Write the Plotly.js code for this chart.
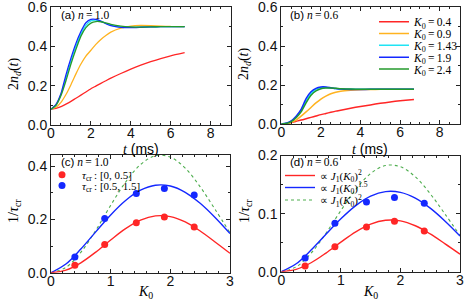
<!DOCTYPE html>
<html><head><meta charset="utf-8">
<script src="https://cdn.plot.ly/plotly-3.0.1.min.js"></script>
<style>html,body{margin:0;padding:0;background:#fff}#chart{width:464px;height:302px}</style>
</head><body><div id="chart"></div><script>
// ---------- data ----------
const tTime = [0,0.25,0.5,0.75,1,1.25,1.5,1.75,2,2.25,2.5,2.75,3,3.5,4,4.5,5,5.5,6,6.7];
const K0Labels = ['0.4','0.9','1.43','1.9','2.4'];
// panel (a): n = 1.0
const a_K04  = [0.08,0.084,0.093,0.106,0.12,0.136,0.152,0.168,0.184,0.198,0.212,0.225,0.238,0.262,0.284,0.304,0.322,0.338,0.352,0.368];
const a_K09  = [0.08,0.09,0.115,0.155,0.205,0.26,0.31,0.35,0.38,0.41,0.435,0.455,0.472,0.492,0.503,0.506,0.505,0.503,0.501,0.5];
const a_K143 = [0.08,0.10,0.155,0.24,0.325,0.4,0.462,0.507,0.529,0.533,0.527,0.517,0.508,0.498,0.496,0.498,0.499,0.5,0.5,0.5];
const a_K19  = [0.08,0.105,0.16,0.255,0.34,0.415,0.475,0.52,0.537,0.537,0.528,0.515,0.505,0.496,0.495,0.497,0.499,0.5,0.5,0.5];
const a_K24  = [0.08,0.10,0.15,0.225,0.31,0.385,0.452,0.495,0.518,0.526,0.525,0.519,0.512,0.503,0.499,0.498,0.499,0.5,0.5,0.5];
// panel (b): n = 0.6
const b_K04  = [0,0.003,0.008,0.014,0.02,0.027,0.034,0.041,0.048,0.054,0.06,0.066,0.071,0.081,0.09,0.098,0.106,0.113,0.119,0.126];
const b_K09  = [0,0.002,0.008,0.02,0.04,0.062,0.085,0.108,0.128,0.143,0.155,0.163,0.168,0.173,0.176,0.177,0.178,0.178,0.178,0.178];
const b_K143 = [0,0.004,0.014,0.036,0.068,0.118,0.157,0.178,0.186,0.187,0.185,0.182,0.18,0.179,0.178,0.178,0.178,0.178,0.178,0.178];
const b_K19  = [0,0.004,0.016,0.04,0.075,0.13,0.165,0.183,0.19,0.19,0.186,0.182,0.179,0.177,0.177,0.178,0.178,0.178,0.178,0.178];
const b_K24  = [0,0.003,0.012,0.032,0.062,0.108,0.147,0.17,0.181,0.184,0.184,0.183,0.181,0.179,0.178,0.178,0.178,0.178,0.178,0.178];
// panels (c),(d): rates
const K0pts = [0.4,0.9,1.43,1.9,2.4];
const c_tau05  = [0.028,0.106,0.188,0.21,0.172];
const c_tau15  = [0.059,0.204,0.298,0.317,0.292];
const d_tau05  = [0.0098,0.043,0.077,0.087,0.070];
const d_tau15  = [0.0236,0.0834,0.12,0.1276,0.118];
const K0grid = [0,0.25,0.5,0.75,1,1.25,1.5,1.75,2,2.25,2.5,2.75,3];
const c_fitRed   = [0,0.0098,0.0373,0.0774,0.123,0.1656,0.1976,0.2138,0.2112,0.191,0.1569,0.1157,0.073];
const c_fitBlue  = [0,0.0325,0.0889,0.1537,0.2175,0.2718,0.3104,0.3292,0.3263,0.3025,0.2611,0.2077,0.1471];
const c_fitGreen = [0,0.0201,0.0768,0.1595,0.2534,0.341,0.4071,0.4403,0.435,0.3934,0.3232,0.2383,0.1504];
const d_fitRed   = [0,0.004,0.0154,0.0321,0.0509,0.0686,0.0819,0.0885,0.0875,0.0791,0.065,0.0479,0.0302];
const d_fitBlue  = [0,0.0136,0.0372,0.0644,0.0911,0.1138,0.13,0.1379,0.1366,0.1267,0.1094,0.087,0.0616];
const d_fitGreen = [0,0.0084,0.0319,0.0662,0.1052,0.1416,0.169,0.1828,0.1806,0.1633,0.1342,0.0989,0.0624];
// tick labels
const tTicks = [0,2,4,6,8];
const kTicks = [0,1,2,3];
const nTicks = [0,0.2,0.4,0.6], nTickText = ['0.0','0.2','0.4','0.6'];
const cTicks = [0,0.2,0.4],      cTickText = ['0.0','0.2','0.4'];
const dTicks = [0,0.1,0.2],      dTickText = ['0.0','0.1','0.2'];

// ---------- styling ----------
const W=464,H=302;
const PX = x=>x/W, PY = y=>1-y/H;
const SERIF='Liberation Serif, Times New Roman, serif';
const SANS='Liberation Sans, Arial, sans-serif';
const colors = ['#ff2626','#ffb320','#20e4f4','#1428ff','#249a2c'];
const fitGreen = '#4fae4f';

const traces = [];
const aSeries=[a_K04,a_K09,a_K143,a_K19,a_K24];
const bSeries=[b_K04,b_K09,b_K143,b_K19,b_K24];
const legNames=['legend','legend2','legend3','legend4','legend5'];
aSeries.forEach((s,i)=>traces.push({x:tTime,y:s,xaxis:'x',yaxis:'y',mode:'lines',
  line:{color:colors[i],width:1.3,shape:'spline',smoothing:0.5},showlegend:false,hoverinfo:'skip'}));
bSeries.forEach((s,i)=>traces.push({x:tTime,y:s,xaxis:'x2',yaxis:'y2',mode:'lines',
  name:'<i>K</i><sub>0</sub>\u2009=\u2009'+K0Labels[i],legend:legNames[i],
  line:{color:colors[i],width:1.5,shape:'spline',smoothing:0.5},showlegend:true,hoverinfo:'skip'}));
// (c)
traces.push({x:K0grid,y:c_fitGreen,xaxis:'x3',yaxis:'y3',mode:'lines',line:{color:fitGreen,width:1.1,dash:'dot',shape:'spline'},showlegend:false});
traces.push({x:K0grid,y:c_fitBlue,xaxis:'x3',yaxis:'y3',mode:'lines',line:{color:colors[3],width:1.4,shape:'spline'},showlegend:false});
traces.push({x:K0grid,y:c_fitRed,xaxis:'x3',yaxis:'y3',mode:'lines',line:{color:colors[0],width:1.4,shape:'spline'},showlegend:false});
traces.push({x:K0pts,y:c_tau05,xaxis:'x3',yaxis:'y3',mode:'markers',marker:{color:colors[0],size:7},
  name:'<i>τ</i><sub>cr</sub>\u2009: [0, 0.5]',legend:'legend6',showlegend:true});
traces.push({x:K0pts,y:c_tau15,xaxis:'x3',yaxis:'y3',mode:'markers',marker:{color:colors[3],size:7},
  name:'<i>τ</i><sub>cr</sub>\u2009: [0.5, 1.5]',legend:'legend7',showlegend:true});
// (d)
traces.push({x:K0grid,y:d_fitGreen,xaxis:'x4',yaxis:'y4',mode:'lines',line:{color:fitGreen,width:1.1,dash:'dot',shape:'spline'},
  name:'∝ <i>J</i><sub>1</sub>(<i>K</i><sub>0</sub>)<sup>2</sup>',legend:'legend10',showlegend:true});
traces.push({x:K0grid,y:d_fitBlue,xaxis:'x4',yaxis:'y4',mode:'lines',line:{color:colors[3],width:1.4,shape:'spline'},
  name:'∝ <i>J</i><sub>1</sub>(<i>K</i><sub>0</sub>)<sup>1.5</sup>',legend:'legend9',showlegend:true});
traces.push({x:K0grid,y:d_fitRed,xaxis:'x4',yaxis:'y4',mode:'lines',line:{color:colors[0],width:1.4,shape:'spline'},
  name:'∝ <i>J</i><sub>1</sub>(<i>K</i><sub>0</sub>)<sup>2</sup>',legend:'legend8',showlegend:true});
traces.push({x:K0pts,y:d_tau05,xaxis:'x4',yaxis:'y4',mode:'markers',marker:{color:colors[0],size:7},showlegend:false});
traces.push({x:K0pts,y:d_tau15,xaxis:'x4',yaxis:'y4',mode:'markers',marker:{color:colors[3],size:7},showlegend:false});

function ax(domain, range, tv, tt, minor, anchor, isX){
  return {domain:domain, range:range, tickmode:'array', tickvals:tv, ticktext:tt, anchor:anchor,
    showline:true, mirror:'allticks', linecolor:'#222', linewidth:1,
    ticks:'inside', ticklen:4, tickwidth:1, tickcolor:'#222',
    ticklabelstandoff: isX ? -5 : 0, ticklabeloverflow:'allow',
    minor:{ticks:'inside', ticklen:2, dtick:minor, tick0:0, tickcolor:'#222', showgrid:false},
    showgrid:false, zeroline:false, fixedrange:true,
    tickfont:{family:SANS,size:14,color:'#111'}};
}
function leg(xpx,ypx,fs){
  return {x:PX(xpx),y:PY(ypx),xanchor:'left',yanchor:'middle',bgcolor:'rgba(0,0,0,0)',borderwidth:0,
    font:{family:SERIF,size:fs||12,color:'#000'},itemwidth:30,tracegroupgap:0};
}
const xa=[PX(51),PX(230.5)], xb=[PX(281.3),PX(459.5)], xc=[PX(51),PX(230)], xd=[PX(281.3),PX(460)];
const ya=[PY(125),PY(7)], yb=[PY(124),PY(7)], yc=[PY(272.7),PY(155)], yd=[PY(271.7),PY(155.5)];

function ann(xpx,ypx,text,opts){
  return Object.assign({xref:'paper',yref:'paper',x:PX(xpx),y:PY(ypx),text:text,showarrow:false,
    xanchor:'center',yanchor:'middle',font:{family:SERIF,size:14,color:'#000'}},opts||{});
}
const tTitle='<span style="font-family:Liberation Serif;font-style:italic">t</span> (ms)';
const nTitle='2<i>n</i><sub><i>d</i></sub>(<i>t</i>)';
const rTitle='1/<i>τ</i><sub>cr</sub>';
const kTitle='<i>K</i><sub>0</sub>';
const lab=(l,n)=>'<span style="font-family:Liberation Sans">('+l+')</span> <i>n</i>\u2009=\u2009'+n;
const labFont={family:SERIF,size:11.5,color:'#000'};

const layout={width:W,height:H,margin:{l:0,r:0,t:0,b:0},paper_bgcolor:'#fff',plot_bgcolor:'#fff',
  xaxis:ax(xa,[0,9],tTicks,null,0.5,'y',true), yaxis:ax(ya,[0,0.6],nTicks,nTickText,0.1,'x'),
  xaxis2:ax(xb,[0,9],tTicks,null,0.5,'y2',true), yaxis2:ax(yb,[0,0.6],nTicks,nTickText,0.1,'x2'),
  xaxis3:ax(xc,[0,3],kTicks,null,0.2,'y3',true), yaxis3:ax(yc,[0,0.443],cTicks,cTickText,0.1,'x3'),
  xaxis4:ax(xd,[0,3],kTicks,null,0.2,'y4',true), yaxis4:ax(yd,[0,0.2],dTicks,dTickText,0.05,'x4'),
  legend:leg(374,21.7,11.5), legend2:leg(374,33.5,11.5), legend3:leg(374,45.3,11.5), legend4:leg(374,57.2,11.5), legend5:leg(374,69,11.5),
  legend6:leg(42,174.8,11), legend7:leg(42,185.5,11),
  legend8:leg(280,175.5,11), legend9:leg(280,187.5,11), legend10:leg(280,200,11),
  annotations:[
    ann(85,15,lab('a','1.0'),{font:labFont}),
    ann(314,15,lab('b','0.6'),{font:labFont}),
    ann(85,161.8,lab('c','1.0'),{font:labFont}),
    ann(314,161.8,lab('d','0.6'),{font:labFont}),
    ann(141,148.5,tTitle,{font:{family:SANS,size:14,color:'#000'}}),
    ann(370,148.5,tTitle,{font:{family:SANS,size:14,color:'#000'}}),
    ann(145,292,kTitle),
    ann(370,292,kTitle),
    ann(14,74,nTitle,{textangle:-90}),
    ann(245,64,nTitle,{textangle:-90}),
    ann(14,211,rTitle,{textangle:-90}),
    ann(245,211,rTitle,{textangle:-90})
  ]};
Plotly.newPlot('chart',traces,layout,{staticPlot:true,displayModeBar:false});
</script></body></html>
